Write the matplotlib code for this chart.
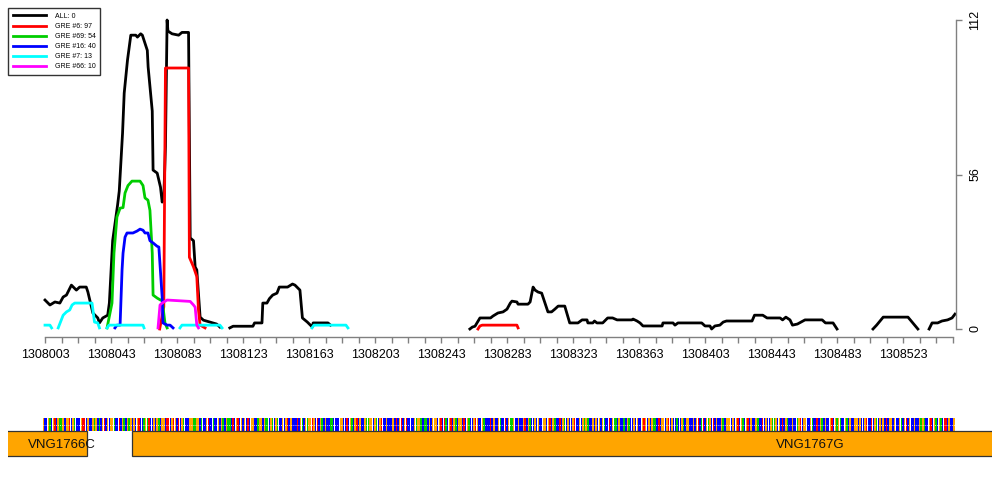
import numpy as np
import matplotlib
matplotlib.use("Agg")
import matplotlib.pyplot as plt
from matplotlib.patches import Rectangle
from matplotlib.ticker import FormatStrFormatter

plt.rcParams['font.family'] = ['Liberation Sans', 'DejaVu Sans']

START = 1308003

# coverage tracks, x = offset from START, None = gap
all_x = [0, 3, 6, 9, 11, 13, 16, 19, 21, 25, 26, 29, 32, 33, 35, 38, 39, 41, 44, 45,
         47, 48, 50, 52, 55, 56, 58, 59, 62, 62.5, 65, 65.5, 68, 70, 71, 72, 73, 74, 74.5, 77,
         81, 83, 86, 87, 88, 90, 91, 92, 94, 96, 100, 104, 106, None,
         112, 114, 126, 127, 131.5, 132, 134.5, 136, 138, 140.6, 142, 147, 150, 151.5, 154.5, 156,
         159, 162, 162.5, 171.5, 173, None,
         257.5, 259, 260.6, 263.6, 270, 271.5, 274.5, 277.6, 280, 282, 283, 286, 286.7, 292.7, 294,
         295.8, 297, 298.8, 301, 303, 304.8, 307, 309, 311, 315, 317, 318, 323, 325.5, 328.5,
         329, 332, 333, 334.5, 338, 341, 344, 346.7, 355.8, 356.4, 358.8, 360.6, 362.4, 374, 374.5,
         380.6, 381.8, 383.6, 398, 400, 403, 404, 406, 409, 411, 413, 428.5, 430, 435, 437.6,
         445.5, 447, 449, 451.5, 453, 456, 460.6, 471, 473, 477.6, 480, None,
         501.8, 504, 508, 523, 527, 529, None,
         535.8, 537.6, 541, 543.6, 547, 549.7, 551.5]
all_y = [10.5, 8.7, 9.8, 9.4, 11.6, 12.3, 15.9, 14.1, 15.2, 15.2, 13.4, 5.8, 4, 2.2, 4, 5, 9.4, 32, 45, 50,
         71, 85.5, 97.5, 106.5, 106.5, 105.8, 107, 106.5, 101, 95, 79, 57.6, 56.5, 51.4, 46, 47.8, 66, 112, 108, 107,
         106.5, 107.5, 107.5, 107.5, 33, 32, 22.5, 21.4, 4.3, 3.2, 2.5, 1.8, 0.7, None,
         0.4, 1, 1, 2.2, 2.2, 9.4, 9.4, 11, 12.3, 13, 15.2, 15.2, 16.3, 15.9, 14.1, 4,
         2.5, 0.7, 2.2, 2.2, 1.4, None,
         0, 0.7, 1, 4, 4, 4.7, 5.8, 6.2, 7.2, 9.4, 10.1, 9.8, 9, 9, 9.8,
         15.2, 14.1, 13.4, 13, 9.4, 6.2, 6.2, 7.2, 8.3, 8.3, 4.3, 2.2, 2.2, 3.3, 3.3,
         2.2, 2.2, 2.9, 2.2, 2.2, 4, 4, 3.3, 3.3, 3.6, 2.9, 2.2, 1.1, 1.1, 2.2,
         2.2, 1.4, 2.2, 2.2, 1.1, 1.1, 0, 1.1, 1.4, 2.5, 2.9, 2.9, 5, 5, 4,
         4, 3.3, 4.3, 3.3, 1.4, 1.8, 3.3, 3.3, 2.2, 2.2, 0, None,
         0, 1.4, 4.3, 4.3, 1.4, 0, None,
         0, 2.2, 2.2, 2.9, 3.3, 4, 5.4]

gre6_x = [69.5, 72, 73, 87, 87.5, 90, 92, 93, 94, 97, None,
          262.4, 263.6, 265, 286, 286.7]
gre6_y = [0, 8, 94.6, 94.6, 26, 22.5, 19, 7, 1.4, 0.4, None,
          0, 1.1, 1.4, 1.4, 0.4]

gre69_x = [37.6, 40.6, 41.8, 43.6, 45.5, 47.3, 48.5, 50.3, 52.7, 57.6, 59.4, 60.6, 62.4, 63.6,
           65, 65.5, 68, 70, 71, 72.7, 74]
gre69_y = [0.4, 9.4, 27.5, 40.6, 43.8, 44, 49.3, 52, 53.6, 53.6, 52, 47.5, 46.7, 43,
           27.5, 12.3, 11.2, 10.5, 10.5, 2.2, 0.4]

gre16_x = [42.4, 43.6, 45.5, 46.7, 47.3, 48.5, 49.7, 53.3, 55.8, 57.6, 59.4, 60.6, 62.4, 63.6,
           65.5, 67.9, 69, 71, 71.5, 74, 75.8, 77.6]
gre16_y = [0.4, 1.4, 1.4, 21.4, 27.5, 33.3, 34.8, 34.8, 35.5, 36.2, 35.8, 34.8, 34.8, 32,
           31.2, 30, 29.7, 11.6, 2.2, 1.4, 1.4, 0.4]

gre7_x = [0, 3, 4, None,
          8, 11, 13, 15, 16.4, 18, 28.5, 30, 32, 33, None,
          37.6, 38.8, 59.4, 60, None,
          81.8, 83, 106, 107.3, None,
          161.8, 163, 182.4, 183.6]
gre7_y = [1.4, 1.4, 0.4, None,
          0.4, 5, 6.2, 6.9, 8.7, 9.4, 9.4, 2.5, 2.2, 0.4, None,
          0.4, 1.4, 1.4, 0.4, None,
          0.4, 1.4, 1.4, 0.4, None,
          0.4, 1.4, 1.4, 0.4]

gre66_x = [68.5, 69.7, 71, 74, 88, 90, 91, 92, 93]
gre66_y = [0.4, 8.7, 9.4, 10.5, 10, 8.7, 7.9, 1.4, 0.4]

series_labels = ["ALL: 0", "GRE #6: 97", "GRE #69: 54", "GRE #16: 40", "GRE #7: 13", "GRE #66: 10"]
series_colors = ["black", "#ff0000", "#00cd00", "#0000ff", "#00ffff", "#ff00ff"]

# genes and sequence for the lower track
gene_names = ["VNG1766C", "VNG1767G"]
gene_start = [-60, 52.7]
gene_end = [25.5, 640]
gene_label_x = [10.5, 463.6]

seq = ("GCCGACGTCGAAGCGGTCGACCCGTTCGCCGAGCACGTCGCGGACCTCGA"
       "CGAGCGCGTCCAGATCCGCGACGGCTTCGTGCTCGACCCGGAAGGCACCG"
       "TCCACCGCGACGAACTCGTCGCGCTCGGCCAGGCGAACGACGACCGCGTC"
       "GCCCTCGACGAGGTGCTCGACGCCAACCCCGGCCTCGACGTCGCCGAAGG"
       "CGACGTCCGCCCGCTCGTCGTCCCCGAGGACAACGCGGGCGTCTACGTCG"
       "ACGGCTCGACCGTGCCGACCCTCGCCGACCTCGAAGCCGCCGTCGACCGC"
       "GCCGGCGTCGACCTCGACGCCGTCCGCGAGACCGCGCGCGACCTCGAACG"
       "CCACGACCGCGCCGTGCGCGAACTCGGCGTCGCCACCGACGGCCGCGTCA"
       "TCGAGCTCGCCGACGGGCGCGTCGACGTCGCCGACCTCGCCGAAGCGCTC"
       "GACCGCCAGTCGGCCGACCTCGACGCCGTCGAGACCGACGCCGGCGCCGT"
       "CCTCGACGCGCTCGGCGCCGACGTCGCCGCCGAGACCGTCGACGACTTCG"
       "CCGAGGCGCTCGACGGCGCCGCGACCGACGTCCTCGCCGAAGCCGACGCG")
seq = seq[:553]
base_colors = {"A": "#00cd00", "C": "#0000ff", "G": "#ffa500", "T": "#ff0000"}

fig = plt.figure(figsize=(10, 5), dpi=100)

# main coverage panel
ax = fig.add_axes([45 / 1000, 1 - 329 / 500, 910 / 1000, 309 / 500])
series = [(all_x, all_y), (gre6_x, gre6_y), (gre69_x, gre69_y),
          (gre16_x, gre16_y), (gre7_x, gre7_y), (gre66_x, gre66_y)]
handles = []
for (xs, ys), lab, col in zip(series, series_labels, series_colors):
    xs = START + np.array(xs, dtype=float)
    ys = np.array(ys, dtype=float)
    h, = ax.plot(xs, ys, color=col, lw=2.0, label=lab, clip_on=False, solid_joinstyle='round')
    handles.append(h)

ax.set_xlim(START, START + 551.5)
ax.set_ylim(0, 112)
for s in ['top', 'left']:
    ax.spines[s].set_visible(False)
ax.spines['bottom'].set_position(('outward', 5.8))
ax.spines['bottom'].set_bounds(START, START + 550)
ax.spines['right'].set_position(('outward', 0.7))
ax.spines['right'].set_bounds(0, 112)
for s in ['bottom', 'right']:
    ax.spines[s].set_color('#808080')
    ax.spines[s].set_linewidth(1.0)

ax.set_xticks(np.arange(START, START + 551, 40))
ax.set_xticks(np.arange(START, START + 551, 10), minor=True)
ax.xaxis.set_major_formatter(FormatStrFormatter('%d'))
ax.tick_params(axis='x', which='both', length=4.5, color='#808080', width=1.0, labelsize=9, pad=4)
ax.yaxis.tick_right()
ax.set_yticks([0, 56, 112])
ax.tick_params(axis='y', length=4.5, color='#808080', width=1.0, labelsize=9, pad=5)
for t in ax.get_yticklabels():
    t.set_rotation(90)
    t.set_va('center')

fig.legend(handles, series_labels, loc='upper left', bbox_to_anchor=(8 / 1000, 1 - 8 / 500),
           borderaxespad=0, fontsize=5.0, frameon=True, fancybox=False, edgecolor='#333333',
           handlelength=4.8, handletextpad=1.2, borderpad=0.7, labelspacing=0.45, framealpha=1)

# lower track: sequence and genes
ax2 = fig.add_axes([8 / 1000, 1 - 460 / 500, 984 / 1000, 50 / 500])
ax2.set_xlim(START - 37 / 1.65, START + 947 / 1.65)
ax2.set_ylim(50, 0)
ax2.axis('off')

pos = START - 1 + np.arange(len(seq))
cols = [base_colors[b] for b in seq]
ax2.bar(pos, 13, bottom=8, width=0.85, color=cols, align='center')
ax2.plot([pos[0] - 0.5, pos[-1] + 0.5], [14.5, 14.5], color='white', lw=0.6, ls=(0, (1, 1.5)))

for name, g0, g1, lx in zip(gene_names, gene_start, gene_end, gene_label_x):
    ax2.add_patch(Rectangle((START + g0, 21), g1 - g0, 25, facecolor='#ffa500',
                            edgecolor='#333333', lw=0.9))
    ax2.text(START + lx, 35, name, ha='center', va='center', fontsize=9.5, color='#111111')

fig.savefig("out.png", dpi=100)
